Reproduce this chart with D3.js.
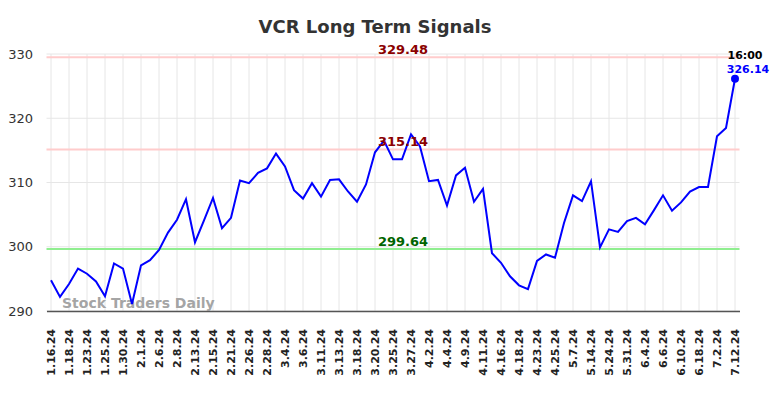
<!DOCTYPE html>
<html>
<head>
<meta charset="utf-8">
<script src="https://cdn.jsdelivr.net/npm/d3@7"></script>
<style>
  html, body { margin: 0; padding: 0; background: #fff; }
  svg { display: block; }
  text { font-family: "DejaVu Sans", sans-serif; }
</style>
</head>
<body>
<div id="chart"></div>
<script>
const title = "VCR Long Term Signals";
const tickLabels = ["1.16.24","1.18.24","1.23.24","1.25.24","1.30.24","2.1.24","2.6.24","2.8.24","2.13.24","2.15.24","2.21.24","2.26.24","2.28.24","3.4.24","3.6.24","3.11.24","3.13.24","3.18.24","3.20.24","3.25.24","3.27.24","4.2.24","4.4.24","4.9.24","4.11.24","4.16.24","4.18.24","4.23.24","4.25.24","5.7.24","5.14.24","5.24.24","5.31.24","6.4.24","6.6.24","6.10.24","6.18.24","7.2.24","7.12.24"];
const prices = [294.8,292.2,294.2,296.6,295.8,294.6,292.3,297.4,296.6,291.1,
  297.1,297.9,299.5,302.2,304.2,307.4,300.7,304.1,307.6,302.9,
  304.5,310.3,309.9,311.5,312.2,314.5,312.5,308.8,307.5,309.9,
  307.8,310.4,310.5,308.6,307.0,309.7,314.7,316.5,313.6,313.6,
  317.5,315.6,310.2,310.4,306.4,311.1,312.3,307.0,309.0,299.0,
  297.5,295.4,294.0,293.4,297.8,298.8,298.3,303.7,308.0,307.1,
  310.2,299.9,302.7,302.3,304.0,304.5,303.5,305.7,308.0,305.6,
  306.9,308.6,309.3,309.3,317.2,318.5,326.14];
const yTicks = [290, 300, 310, 320, 330];
const resistanceLevels = [329.48, 315.14];
const supportLevels = [299.64];
const lastTime = "16:00";
const watermark = "Stock Traders Daily";

const W = 784, H = 398;
const svg = d3.select("#chart").append("svg").attr("width", W).attr("height", H);

const x = d3.scaleLinear().domain([-0.5, prices.length - 0.5]).range([46.5, 739.5]);
const y = d3.scaleLinear().domain([290, 330]).range([311, 54]);

// title
svg.append("text").attr("x", 375).attr("y", 33).attr("text-anchor", "middle")
  .attr("font-size", 18).attr("font-weight", "bold").attr("fill", "#333").text(title);

// horizontal grid
svg.append("g").selectAll("line").data(yTicks).join("line")
  .attr("x1", x.range()[0]).attr("x2", x.range()[1])
  .attr("y1", d => y(d)).attr("y2", d => y(d))
  .attr("stroke", "#e6e6e6").attr("stroke-width", 1);

// vertical grid
const tickIdx = tickLabels.map((_, i) => i * 2);
svg.append("g").selectAll("line").data(tickIdx).join("line")
  .attr("x1", d => x(d)).attr("x2", d => x(d))
  .attr("y1", y(330)).attr("y2", y(290))
  .attr("stroke", "#e6e6e6").attr("stroke-width", 1);

// y axis labels
const yAxis = d3.axisLeft(y).tickValues(yTicks).tickSize(0).tickPadding(0);
const yg = svg.append("g").attr("transform", "translate(33,0)").call(yAxis);
yg.select(".domain").remove();
yg.selectAll("text").attr("font-size", 13).attr("fill", "#333")
  .attr("font-family", "DejaVu Sans, sans-serif");

// x axis
const xAxis = d3.axisBottom(x).tickValues(tickIdx).tickSize(0)
  .tickFormat((d, i) => tickLabels[i]);
const xg = svg.append("g").attr("transform", `translate(0,${y(290)})`).call(xAxis);
xg.select(".domain").attr("stroke", "#555").attr("stroke-width", 1.5);
xg.selectAll("text")
  .attr("font-size", 11).attr("font-weight", "bold").attr("fill", "#222")
  .attr("font-family", "DejaVu Sans, sans-serif")
  .attr("text-anchor", "end")
  .attr("transform", "rotate(-90)")
  .attr("x", -18).attr("y", 0).attr("dy", "0.35em");

// level lines
svg.append("g").selectAll("line").data(resistanceLevels).join("line")
  .attr("x1", x.range()[0]).attr("x2", x.range()[1])
  .attr("y1", d => y(d)).attr("y2", d => y(d))
  .attr("stroke", "#ffcccc").attr("stroke-width", 2);
svg.append("g").selectAll("line").data(supportLevels).join("line")
  .attr("x1", x.range()[0]).attr("x2", x.range()[1])
  .attr("y1", d => y(d)).attr("y2", d => y(d))
  .attr("stroke", "#90ee90").attr("stroke-width", 2);

// watermark
svg.append("text").attr("x", 62).attr("y", 308)
  .attr("font-size", 14).attr("font-weight", "bold").attr("fill", "#999").attr("fill-opacity", 0.9)
  .text(watermark);

// price line
const line = d3.line().x((d, i) => x(i)).y(d => y(d));
svg.append("path").datum(prices).attr("d", line)
  .attr("fill", "none").attr("stroke", "#0000ff").attr("stroke-width", 2)
  .attr("stroke-linejoin", "miter");

// level labels
svg.append("g").selectAll("text").data(resistanceLevels).join("text")
  .attr("x", 403).attr("y", d => y(d) - 3).attr("text-anchor", "middle")
  .attr("font-size", 13).attr("font-weight", "bold").attr("fill", "#8b0000")
  .text(d => d.toFixed(2));
svg.append("g").selectAll("text").data(supportLevels).join("text")
  .attr("x", 403).attr("y", d => y(d) - 3).attr("text-anchor", "middle")
  .attr("font-size", 13).attr("font-weight", "bold").attr("fill", "#006400")
  .text(d => d.toFixed(2));

// last point
const li = prices.length - 1, lv = prices[li];
svg.append("circle").attr("cx", x(li)).attr("cy", y(lv)).attr("r", 4).attr("fill", "#0000ff");
svg.append("text").attr("x", x(li) + 10).attr("y", y(lv) - 20).attr("text-anchor", "middle")
  .attr("font-size", 11).attr("font-weight", "bold").attr("fill", "#000").text(lastTime);
svg.append("text").attr("x", x(li) + 13).attr("y", y(lv) - 6).attr("text-anchor", "middle")
  .attr("font-size", 11).attr("font-weight", "bold").attr("fill", "#0000ff").text(lv.toFixed(2));
</script>
</body>
</html>
